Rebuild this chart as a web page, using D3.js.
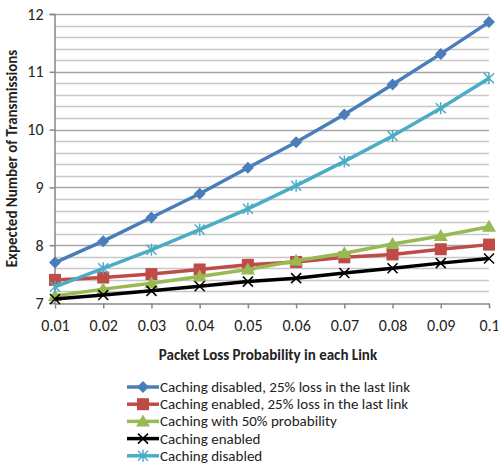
<!DOCTYPE html>
<html>
<head>
<meta charset="utf-8">
<script src="https://cdn.jsdelivr.net/npm/d3@7"></script>
<style>
  body { margin: 0; background: #fff; }
  text { font-family: Carlito, "Liberation Sans Narrow", "Open Sans", sans-serif; }
</style>
</head>
<body>
<div id="chart"></div>
<script>
var lossProb = ["0.01", "0.02", "0.03", "0.04", "0.05", "0.06", "0.07", "0.08", "0.09", "0.1"];
var yTicks = [7, 8, 9, 10, 11, 12];

var disabled25 = [7.70, 8.07, 8.48, 8.89, 9.34, 9.78, 10.26, 10.78, 11.31, 11.86];
var enabled25  = [7.40, 7.44, 7.50, 7.58, 7.66, 7.71, 7.79, 7.84, 7.93, 8.01];
var half       = [7.12, 7.24, 7.34, 7.46, 7.58, 7.73, 7.86, 8.02, 8.16, 8.32];
var enabled    = [7.07, 7.14, 7.21, 7.29, 7.37, 7.43, 7.52, 7.60, 7.69, 7.77];
var disabled   = [7.28, 7.60, 7.92, 8.27, 8.63, 9.03, 9.45, 9.89, 10.37, 10.89];

var series = [
  {name: "Caching disabled, 25% loss in the last link", values: disabled25, color: "#4a7ebb", marker: "diamond"},
  {name: "Caching enabled, 25% loss in the last link", values: enabled25, color: "#be4b48", marker: "square"},
  {name: "Caching with 50% probability", values: half, color: "#98b954", marker: "triangle"},
  {name: "Caching enabled", values: enabled, color: "#000000", marker: "x"},
  {name: "Caching disabled", values: disabled, color: "#4bacc6", marker: "star"}
];

var width = 498, height = 468;
var plotLeft = 55, plotRight = 489, plotTop = 14, plotBottom = 303;

var svg = d3.select("#chart").append("svg")
  .attr("width", width)
  .attr("height", height);

var x = d3.scalePoint().domain(lossProb).range([plotLeft, plotRight]);
var y = d3.scaleLinear().domain([7, 12]).range([plotBottom, plotTop]);

// gridlines every 0.2
var grid = d3.range(7.2, 12.01, 0.2);
svg.append("g").selectAll("line")
  .data(grid)
  .enter().append("line")
    .attr("x1", plotLeft).attr("x2", plotRight)
    .attr("y1", function(d) { return Math.round(y(d)) + 0.5; })
    .attr("y2", function(d) { return Math.round(y(d)) + 0.5; })
    .attr("stroke", function(d) { return Math.abs(d - Math.round(d)) < 0.01 ? "#a6a6a6" : "#c8c8c8"; })
    .attr("stroke-width", 1.5);

// y axis
var yAxis = svg.append("g")
  .attr("transform", "translate(" + (plotLeft - 0.5) + ",0)")
  .call(d3.axisLeft(y).tickValues(yTicks).tickFormat(d3.format("d")).tickSize(5).tickPadding(6));
yAxis.select(".domain").attr("stroke", "#868686").attr("stroke-width", 1.5);
yAxis.selectAll(".tick line").attr("stroke", "#868686").attr("stroke-width", 1.5);
yAxis.selectAll("text").attr("font-size", 16).attr("fill", "#222");

// x axis
var xAxis = svg.append("g")
  .attr("transform", "translate(0," + (plotBottom + 0.5) + ")")
  .call(d3.axisBottom(x).tickSize(5).tickPadding(11).tickSizeOuter(0));
xAxis.select(".domain").attr("stroke", "#868686").attr("stroke-width", 1.5);
xAxis.selectAll(".tick line").attr("stroke", "#868686").attr("stroke-width", 1.5);
xAxis.selectAll("text").attr("font-size", 16).attr("fill", "#222");

svg.append("text")
  .attr("x", 268).attr("y", 360)
  .attr("text-anchor", "middle")
  .attr("font-size", 15).attr("font-weight", "bold").attr("fill", "#222")
  .text("Packet Loss Probability in each Link");

svg.append("text")
  .attr("transform", "translate(17," + ((plotTop + plotBottom) / 2) + ") rotate(-90)")
  .attr("text-anchor", "middle")
  .attr("font-size", 15).attr("font-weight", "bold").attr("fill", "#222")
  .text("Expected Number of Transmissions");

function drawMarker(g, type, color) {
  if (type === "diamond") {
    g.append("path").attr("d", "M0,-6L6,0L0,6L-6,0Z").attr("fill", color);
  } else if (type === "square") {
    g.append("rect").attr("x", -6).attr("y", -6).attr("width", 12).attr("height", 12).attr("fill", color);
  } else if (type === "triangle") {
    g.append("path").attr("d", "M0,-7L7,5L-7,5Z").attr("fill", color);
  } else if (type === "x") {
    g.append("path").attr("d", "M-5,-5L5,5M-5,5L5,-5").attr("stroke", color).attr("stroke-width", 1.5);
  } else if (type === "star") {
    g.append("path").attr("d", "M-5,-5L5,5M-5,5L5,-5M0,-6V6").attr("stroke", color).attr("stroke-width", 1.5);
  }
}

var line = d3.line()
  .x(function(d, i) { return x(lossProb[i]); })
  .y(function(d) { return y(d); });

series.forEach(function(s) {
  var g = svg.append("g");
  g.append("path")
    .datum(s.values)
    .attr("d", line)
    .attr("fill", "none")
    .attr("stroke", s.color)
    .attr("stroke-width", 3.5);
  g.selectAll("g.mk")
    .data(s.values)
    .enter().append("g")
      .attr("class", "mk")
      .attr("transform", function(d, i) { return "translate(" + x(lossProb[i]) + "," + y(d) + ")"; })
      .each(function() { drawMarker(d3.select(this), s.marker, s.color); });
});

// legend
var legend = svg.append("g");
series.forEach(function(s, i) {
  var ly = 387 + i * 17.2;
  var g = legend.append("g").attr("transform", "translate(0," + ly + ")");
  g.append("line").attr("x1", 127).attr("x2", 159).attr("y1", 0).attr("y2", 0)
    .attr("stroke", s.color).attr("stroke-width", 3.5);
  var m = g.append("g").attr("transform", "translate(143,0)");
  drawMarker(m, s.marker, s.color);
  g.append("text").attr("x", 160).attr("y", 5)
    .attr("font-size", 15).attr("fill", "#222")
    .text(s.name);
});
</script>
</body>
</html>
